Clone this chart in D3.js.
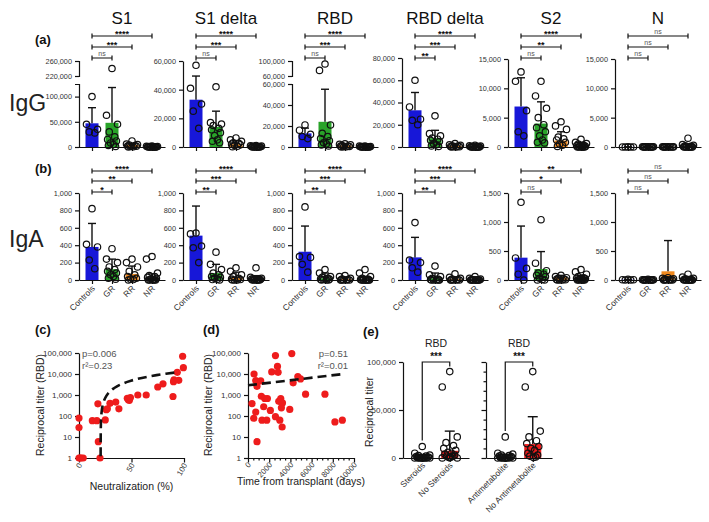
<!DOCTYPE html>
<html>
<head>
<meta charset="utf-8">
<script src="https://cdn.jsdelivr.net/npm/d3@7"></script>
<style>
  body { margin: 0; background: #fff; }
  text { font-family: "Liberation Sans", Arial, sans-serif; }
</style>
</head>
<body>
<div id="chart"></div>
<script>
// ---- data ----
const groups = ["Controls", "GR", "RR", "NR"];
const antigens = ["S1", "S1 delta", "RBD", "RBD delta", "S2", "N"];

// IgG (row a): bar means, SD tops, individual points per group
const iggMeans = [
  [47000, 48000, 4000, 800],
  [33000, 14000, 2000, 300],
  [13000, 24000, 1500, 400],
  [33000, 8000, 1000, 300],
  [6900, 4000, 1100, 300],
  [20, 30, 20, 150]
];
const iggSd = [
  [78000, 118000, 7000, 1500],
  [49500, 25000, 4500, 800],
  [18000, 55000, 3000, 800],
  [49000, 15000, 2000, 600],
  [11800, 7700, 2600, 800],
  [40, 60, 40, 350]
];
const iggPts = [
  [[100000, 45000, 35000, 30000, 28000],
   [240000, 63000, 45000, 30000, 20000, 15000, 12000, 8000, 5000, 3000, 1000],
   [12000, 6000, 5000, 4000, 3000, 2000, 1500, 1000, 500, 200],
   [2000, 1500, 1000, 800, 600, 400, 300, 200, 100, 50, 20, 10, 0, 0]],
  [[57000, 41000, 30000, 25000, 13000],
   [42000, 17000, 16000, 15000, 13000, 12000, 10000, 8000, 5000, 4000, 3000],
   [6300, 5000, 4000, 3000, 2500, 2000, 1500, 1000, 500, 200],
   [1000, 800, 600, 500, 400, 300, 200, 100, 50, 20, 10, 0, 0, 0]],
  [[21000, 16000, 12000, 10000, 8000],
   [92000, 75000, 21000, 13000, 10000, 8000, 6000, 4000, 3000, 2000, 1000],
   [3000, 2500, 2000, 1500, 1000, 800, 500, 300, 200, 100],
   [1000, 800, 500, 400, 300, 200, 100, 50, 20, 10, 0, 0, 0, 0]],
  [[60000, 36000, 25000, 24000, 20000],
   [28000, 12000, 10000, 8000, 7000, 6000, 5000, 3000, 2000, 1000, 500],
   [3000, 2000, 1500, 1000, 800, 500, 300, 200, 100, 50],
   [1500, 1000, 800, 500, 300, 200, 100, 50, 20, 10, 0, 0, 0, 0]],
  [[12800, 11200, 6200, 2600, 1900],
   [11200, 8700, 6600, 5000, 3800, 3300, 2600, 1900, 1200, 800, 700],
   [4300, 3600, 3000, 1700, 1400, 1200, 800, 500, 300, 100],
   [1300, 800, 600, 500, 300, 200, 100, 50, 20, 10, 0, 0, 0, 0]],
  [[20, 10, 5, 0, 0],
   [50, 40, 30, 20, 10, 10, 5, 0, 0, 0, 0],
   [50, 30, 20, 10, 10, 5, 0, 0, 0, 0],
   [1500, 400, 300, 200, 100, 50, 20, 10, 0, 0, 0, 0, 0, 0]]
];
const iggSig = [
  ["ns", "***", "****"], ["ns", "***", "****"], ["ns", "***", "****"],
  ["**", "***", "****"], ["ns", "**", "****"], ["ns", "ns", "ns"]
];
const iggTicks = [
  [0, 50000, 100000], [0, 20000, 40000, 60000], [0, 20000, 40000, 60000],
  [0, 20000, 40000, 60000, 80000], [0, 5000, 10000, 15000], [0, 5000, 10000, 15000]
];
const iggMax = [125000, 60000, 60000, 80000, 15000, 15000];
const iggUpper = [[220000, 260000], null, [60000, 100000], null, null, null];

// IgA (row b)
const igaMeans = [
  [380, 125, 70, 25],
  [510, 80, 30, 20],
  [325, 20, 10, 10],
  [260, 20, 10, 10],
  [385, 190, 50, 40],
  [5, 5, 150, 30]
];
const igaSd = [
  [650, 240, 160, 70],
  [850, 180, 90, 50],
  [620, 80, 30, 40],
  [490, 80, 30, 30],
  [930, 490, 80, 80],
  [10, 10, 680, 60]
];
const igaPts = [
  [[820, 410, 380, 230, 130],
   [360, 240, 200, 150, 120, 100, 80, 60, 40, 20, 10],
   [240, 200, 150, 100, 60, 40, 20, 10, 5, 0],
   [270, 240, 80, 50, 40, 30, 20, 10, 5, 0, 0, 0, 0, 0]],
  [[540, 530, 390, 370, 200],
   [320, 180, 120, 80, 60, 40, 30, 20, 10, 5, 0],
   [140, 100, 60, 40, 20, 10, 5, 0, 0, 0],
   [140, 30, 20, 15, 10, 10, 5, 5, 0, 0, 0, 0, 0, 0]],
  [[840, 270, 260, 180, 90],
   [120, 80, 40, 30, 20, 10, 10, 5, 0, 0, 0],
   [50, 40, 20, 10, 5, 0, 0, 0, 0, 0],
   [120, 80, 40, 20, 10, 5, 0, 0, 0, 0, 0, 0, 0, 0]],
  [[660, 230, 200, 140, 90],
   [160, 60, 40, 20, 10, 5, 0, 0, 0, 0, 0],
   [70, 30, 20, 10, 5, 0, 0, 0, 0, 0],
   [40, 20, 10, 5, 0, 0, 0, 0, 0, 0, 0, 0, 0, 0]],
  [[1340, 380, 200, 100, 0],
   [1040, 290, 160, 120, 100, 80, 60, 30, 10, 0, 0],
   [80, 60, 40, 30, 20, 10, 5, 0, 0, 0],
   [180, 140, 100, 60, 40, 30, 20, 10, 5, 0, 0, 0, 0, 0]],
  [[10, 5, 5, 0, 0],
   [10, 5, 5, 0, 0, 0, 0, 0, 0, 0, 0],
   [40, 30, 20, 10, 5, 0, 0, 0, 0, 0],
   [100, 50, 30, 20, 10, 5, 0, 0, 0, 0, 0, 0, 0, 0]]
];
const igaSig = [
  ["*", "**", "****"], ["**", "***", "****"], ["**", "***", "****"],
  ["**", "***", "****"], ["ns", "*", "**"], ["ns", "ns", "ns"]
];
const igaTicks = [
  [0, 200, 400, 600, 800, 1000], [0, 200, 400, 600, 800, 1000], [0, 200, 400, 600, 800, 1000],
  [0, 200, 400, 600, 800, 1000], [0, 500, 1000, 1500], [0, 500, 1000, 1500]
];
const igaMax = [1000, 1000, 1000, 1000, 1500, 1500];

// (c) neutralization % vs RBD titer
const neutData = [
  [0, 80], [0, 28], [0, 1], [1, 1], [2, 1], [4, 1], [12.7, 60], [17, 60], [18, 380],
  [18.4, 6], [20, 1], [25, 65], [26, 200], [27, 220], [29.5, 400], [35, 460], [38, 220],
  [46, 700], [47, 600], [48, 560], [49, 750], [56, 1000], [64, 1000], [75, 2400],
  [80, 3400], [89.5, 850], [90, 4300], [90.5, 5200], [93.6, 12000], [95, 5000],
  [98.7, 70000], [99.4, 20000]
];
const neutFit = { slope: 166, intercept: -3420 };
const neutStats = ["p=0.006", "r\u00b2=0.23"];

// (d) time from transplant vs RBD titer
const daysData = [
  [380, 390], [540, 78], [570, 10000], [730, 155], [730, 4900], [850, 2600], [850, 6],
  [1200, 4700], [1260, 870], [1320, 63], [1480, 275], [1580, 680], [1770, 63], [1830, 680],
  [2110, 185], [2240, 12500], [2590, 75000], [2590, 93], [2780, 23000], [2840, 12000],
  [2900, 500], [3000, 63], [3090, 680], [3150, 245], [3220, 30], [3250, 420], [3940, 205],
  [4130, 94000], [4260, 3800], [4700, 7500], [4950, 5800], [5430, 1100], [7260, 1100],
  [8200, 52], [8900, 63]
];
const daysFit = { slope: 0.79, intercept: 2900 };
const daysStats = ["p=0.51", "r\u00b2=0.01"];
const logTicks = [1, 10, 100, 1000, 10000, 100000];

// (e) treatment groups, RBD titer
const treatPairs = [["Steroids", "No Steroids"], ["Antimetabolite", "No Antimetabolite"]];
const treatMeans = [[1000, 7500], [1200, 14500]];
const treatSd = [[2500, 28000], [3500, 43000]];
const treatPts = [
  [[12000, 5000, 3000, 2500, 2000, 1500, 1000, 800, 600, 500, 400, 300, 200, 100, 50, 20, 10, 0, 0, 0],
   [90000, 74000, 22000, 16000, 13000, 10000, 8000, 6000, 5000, 4000, 3000, 2000, 1500, 1000, 500, 200, 100, 50]],
  [[22000, 5000, 4000, 3000, 2500, 2000, 1500, 1000, 800, 600, 400, 200, 100, 50, 20, 10, 0, 0, 0],
   [90000, 74000, 28000, 22000, 18000, 15000, 12000, 10000, 8000, 5000, 3000, 2000, 1000, 500]]
];
const treatSig = ["***", "***"];

// ---- layout / style ----
const W = 709, H = 522;
const font = "'Liberation Sans', Arial, sans-serif";
const panelX = [79, 183, 292, 402, 508, 615];
const groupColor = ["#1717d8", "#29a329", "#f28a1e", "#111111"];
const treatColor = ["#111111", "#ee1c1c"];
const red = "#ee1c1c";

const svg = d3.select("#chart").append("svg")
  .attr("width", W).attr("height", H)
  .style("background", "#fff");

function styleAxis(sel, size) {
  sel.select(".domain").attr("stroke", "#111").attr("stroke-width", 1.2);
  sel.selectAll(".tick line").attr("stroke", "#111").attr("stroke-width", 1.2);
  sel.selectAll(".tick text").attr("fill", "#333")
    .style("font-size", size + "px").style("font-family", font);
}

// small horizontal spread so overlapping points stay visible
const spread = [0, -1, 1, -0.5, 0.5, -0.8, 0.8, -0.25, 0.25, -0.65, 0.65, -0.4, 0.4, 0.1, -0.1];
function jit(i, w) { return spread[i % spread.length] * w; }

function barPanel(o) {
  const g = svg.append("g");
  const xs = d3.scalePoint().domain(groups).range([o.ax, o.ax + 86]).padding(0.65);
  let y;
  if (o.upper) {
    const lo = d3.scaleLinear().domain([0, o.max]).range([o.y0, o.y0 - 63]);
    const hi = d3.scaleLinear().domain(o.upper).range([o.y0 - 71, o.y0 - 86]);
    y = v => v <= o.max ? lo(v) : hi(v);
    g.append("g").attr("transform", `translate(${o.ax},0)`)
      .call(d3.axisLeft(lo).tickValues(o.ticks).tickFormat(d3.format(",")).tickSize(4).tickSizeOuter(4))
      .call(styleAxis, 7.3);
    g.append("g").attr("transform", `translate(${o.ax},0)`)
      .call(d3.axisLeft(hi).tickValues(o.upper).tickFormat(d3.format(",")).tickSize(4).tickSizeOuter(4))
      .call(styleAxis, 7.3);
  } else {
    y = d3.scaleLinear().domain([0, o.max]).range([o.y0, o.top]);
    g.append("g").attr("transform", `translate(${o.ax},0)`)
      .call(d3.axisLeft(y).tickValues(o.ticks).tickFormat(d3.format(",")).tickSize(4).tickSizeOuter(0))
      .call(styleAxis, 7.3);
  }

  const xa = g.append("g").attr("transform", `translate(0,${o.y0})`)
    .call(d3.axisBottom(xs).tickSize(4).tickSizeOuter(0).tickFormat(o.labels ? d => d : () => ""))
    .call(styleAxis, 8.5);
  if (o.labels) {
    xa.selectAll(".tick text")
      .attr("fill", "#333")
      .attr("text-anchor", "end")
      .attr("dy", null).attr("y", 0)
      .attr("transform", "translate(3,9) rotate(-45)");
  }

  // bars
  g.selectAll("rect.bar").data(o.means).join("rect")
    .attr("class", "bar")
    .attr("x", (d, i) => xs(groups[i]) - 6.5)
    .attr("width", 13)
    .attr("y", d => y(d))
    .attr("height", d => o.y0 - y(d))
    .attr("fill", (d, i) => groupColor[i]);

  // error bars
  o.sd.forEach((s, i) => {
    const cx = xs(groups[i]);
    g.append("line").attr("x1", cx).attr("x2", cx).attr("y1", y(o.means[i])).attr("y2", y(s))
      .attr("stroke", "#111").attr("stroke-width", 1.4);
    g.append("line").attr("x1", cx - 4).attr("x2", cx + 4).attr("y1", y(s)).attr("y2", y(s))
      .attr("stroke", "#111").attr("stroke-width", 1.4);
  });

  // points
  o.pts.forEach((arr, i) => {
    const cx = xs(groups[i]);
    g.selectAll(null).data(arr).join("circle")
      .attr("cx", (d, j) => cx + jit(j, 5.5))
      .attr("cy", d => y(d))
      .attr("r", 3.2)
      .attr("fill", "none")
      .attr("stroke", "#111")
      .attr("stroke-width", 1.2);
  });

  // significance brackets
  o.sig.forEach((s, k) => {
    const by = o.brY[k];
    const x1 = xs(groups[0]), x2 = xs(groups[k + 1]);
    g.append("path")
      .attr("d", `M${x1},${by - 2.5}V${by + 2.5}M${x1},${by}H${x2}M${x2},${by - 2.5}V${by + 2.5}`)
      .attr("fill", "none").attr("stroke", "#111").attr("stroke-width", 1.2);
    const star = s !== "ns";
    g.append("text")
      .attr("x", (x1 + x2) / 2)
      .attr("y", star ? by + 0.5 : by - 2.5)
      .attr("text-anchor", "middle")
      .attr("fill", star ? "#111" : "#555")
      .style("font-size", star ? "9px" : "7px")
      .style("font-weight", star ? "bold" : "normal")
      .text(s);
  });

  if (o.title) {
    g.append("text")
      .attr("x", (xs(groups[0]) + xs(groups[3])) / 2)
      .attr("y", 24)
      .attr("text-anchor", "middle")
      .attr("fill", "#111")
      .style("font-size", "17px")
      .text(o.title);
  }
}

const topA = [null, 61, null, 58, 59, 59];
antigens.forEach((name, p) => {
  barPanel({
    ax: panelX[p], y0: 147, top: topA[p], max: iggMax[p], ticks: iggTicks[p],
    upper: iggUpper[p], means: iggMeans[p], sd: iggSd[p], pts: iggPts[p],
    sig: iggSig[p], brY: [58, 47, 36], title: name, labels: false
  });
  barPanel({
    ax: panelX[p], y0: 280, top: 193, max: igaMax[p], ticks: igaTicks[p],
    upper: null, means: igaMeans[p], sd: igaSd[p], pts: igaPts[p],
    sig: igaSig[p], brY: [192, 181, 171], title: null, labels: true
  });
});

function label(x, y, t, size, opts = {}) {
  const el = svg.append("text").attr("x", x).attr("y", y)
    .attr("fill", opts.fill || "#111")
    .attr("text-anchor", opts.anchor || "start")
    .style("font-size", size + "px")
    .style("font-weight", opts.bold ? "bold" : "normal")
    .text(t);
  if (opts.rotate) el.attr("transform", `rotate(${opts.rotate},${x},${y})`);
  return el;
}

label(35, 44, "(a)", 13, { bold: true });
label(35, 173, "(b)", 13, { bold: true });
label(9, 111, "IgG", 23, { fill: "#222" });
label(9, 247, "IgA", 23, { fill: "#222" });

// ---- (c) and (d) scatter panels ----
function scatterPanel(o) {
  const g = svg.append("g");
  const y = d3.scaleLog().domain([1, 100000]).range([458, 353]);
  const x = d3.scaleLinear().domain(o.xDomain).range(o.xRange);

  g.append("g").attr("transform", `translate(${o.xRange[0]},0)`)
    .call(d3.axisLeft(y).tickValues(logTicks).tickFormat(d3.format(",")).tickSize(4).tickSizeOuter(0))
    .call(styleAxis, 8);

  const xa = g.append("g").attr("transform", "translate(0,458)")
    .call(d3.axisBottom(x).tickValues(o.xTicks).tickSize(4).tickSizeOuter(0)
      .tickFormat(d => o.xMajor(d) ? d : ""))
    .call(styleAxis, 7.8);
  xa.selectAll(".tick line").attr("y2", d => o.xMajor(d) ? 4.5 : 2.5);
  xa.selectAll(".tick text")
    .attr("text-anchor", "end").attr("dy", null).attr("y", 0)
    .attr("transform", `translate(3,7) rotate(${o.xRot})`);

  g.selectAll("circle").data(o.data).join("circle")
    .attr("cx", d => x(d[0]))
    .attr("cy", d => y(d[1]))
    .attr("r", 3.6)
    .attr("fill", red);

  g.append("path")
    .datum(o.fitX)
    .attr("d", d3.line().x(d => x(d)).y(d => y(o.fit.slope * d + o.fit.intercept)))
    .attr("fill", "none").attr("stroke", "#111")
    .attr("stroke-width", 2.6).attr("stroke-dasharray", "9,5");

  o.stats.forEach((s, i) => label(o.statX, 357 + i * 11.5, s, 9.5, { fill: "#555", anchor: o.statAnchor }));
  label(o.yLabelX, 405, "Reciprocal titer (RBD)", 10.5, { anchor: "middle", rotate: -90, fill: "#222" });
  label((o.xRange[0] + o.xRange[1]) / 2, o.xTitleY, o.xTitle, 10.5, { anchor: "middle", fill: "#222" });
  label(o.tagX, 334, o.tag, 13, { bold: true });
}

// fit curve sample positions for (c): log-spaced above the x-intercept so the steep rise is smooth
const cX0 = -neutFit.intercept / neutFit.slope;
const cLo = Math.log10(1.2 / neutFit.slope), cHi = Math.log10(93 - cX0);
const cFitX = d3.range(0, 61).map(k => cX0 + Math.pow(10, cLo + k * (cHi - cLo) / 60));

scatterPanel({
  data: neutData, xDomain: [0, 100], xRange: [79, 184],
  xTicks: [0, 50, 100], xMajor: () => true, xRot: -60,
  fit: neutFit, fitX: cFitX, stats: neutStats, statX: 82, statAnchor: "start",
  yLabelX: 44, xTitle: "Neutralization (%)", xTitleY: 490, tag: "(c)", tagX: 35
});

scatterPanel({
  data: daysData, xDomain: [0, 10000], xRange: [248, 354],
  xTicks: d3.range(0, 10001, 500), xMajor: d => d % 2000 === 0, xRot: -48,
  fit: daysFit, fitX: [0, 9000], stats: daysStats, statX: 348, statAnchor: "end",
  yLabelX: 212, xTitle: "Time from transplant (days)", xTitleY: 485, tag: "(d)", tagX: 203
});

// ---- (e) treatment bars ----
const eY = d3.scaleLinear().domain([0, 100000]).range([458, 362]);
const eAxisX = [403, 486];
treatPairs.forEach((pair, p) => {
  const g = svg.append("g");
  const ax = eAxisX[p];
  const xs = d3.scalePoint().domain(pair).range([ax, ax + 66]).padding(0.7);

  const ya = g.append("g").attr("transform", `translate(${ax},0)`);
  if (p === 0) {
    ya.call(d3.axisLeft(eY).tickValues([0, 50000, 100000]).tickFormat(d3.format(",")).tickSize(4).tickSizeOuter(0))
      .call(styleAxis, 8);
  } else {
    ya.call(d3.axisLeft(eY).tickValues(d3.range(0, 100001, 10000)).tickFormat(() => "").tickSize(4).tickSizeOuter(0))
      .call(styleAxis, 8);
    ya.selectAll(".tick line").attr("x2", d => d % 50000 === 0 ? -4.5 : -2.5);
  }

  const xa = g.append("g").attr("transform", "translate(0,458)")
    .call(d3.axisBottom(xs).tickSize(4).tickSizeOuter(0))
    .call(styleAxis, 8.5);
  xa.selectAll(".tick text")
    .attr("fill", "#333").attr("text-anchor", "end").attr("dy", null).attr("y", 0)
    .attr("transform", "translate(3,8) rotate(-45)");

  g.selectAll("rect").data(treatMeans[p]).join("rect")
    .attr("x", (d, i) => xs(pair[i]) - 8.5)
    .attr("width", 17)
    .attr("y", d => eY(d))
    .attr("height", d => 458 - eY(d))
    .attr("fill", (d, i) => treatColor[i]);

  treatSd[p].forEach((s, i) => {
    const cx = xs(pair[i]);
    g.append("line").attr("x1", cx).attr("x2", cx).attr("y1", eY(treatMeans[p][i])).attr("y2", eY(s))
      .attr("stroke", "#111").attr("stroke-width", 1.4);
    g.append("line").attr("x1", cx - 5).attr("x2", cx + 5).attr("y1", eY(s)).attr("y2", eY(s))
      .attr("stroke", "#111").attr("stroke-width", 1.4);
  });

  treatPts[p].forEach((arr, i) => {
    const cx = xs(pair[i]);
    g.selectAll(null).data(arr).join("circle")
      .attr("cx", (d, j) => cx + jit(j, 7.5))
      .attr("cy", d => eY(d))
      .attr("r", 3.2)
      .attr("fill", "none")
      .attr("stroke", "#111")
      .attr("stroke-width", 1.2);
  });

  // bracket
  const x1 = xs(pair[0]), x2 = xs(pair[1]);
  const top = eY(100000);
  const b1 = eY(d3.max(treatPts[p][0])) - 6, b2 = eY(d3.max(treatPts[p][1])) - 5;
  g.append("path").attr("d", `M${x1},${b1}V${top}H${x2}V${b2}`)
    .attr("fill", "none").attr("stroke", "#111").attr("stroke-width", 1.2);
  label((x1 + x2) / 2, 360, treatSig[p], 10, { anchor: "middle", bold: true });
  label((x1 + x2) / 2, 347, "RBD", 10.5, { anchor: "middle", fill: "#222" });
});
label(373, 412, "Reciprocal titer", 10.5, { anchor: "middle", rotate: -90, fill: "#222" });
label(363, 336, "(e)", 13, { bold: true });
</script>
</body>
</html>
